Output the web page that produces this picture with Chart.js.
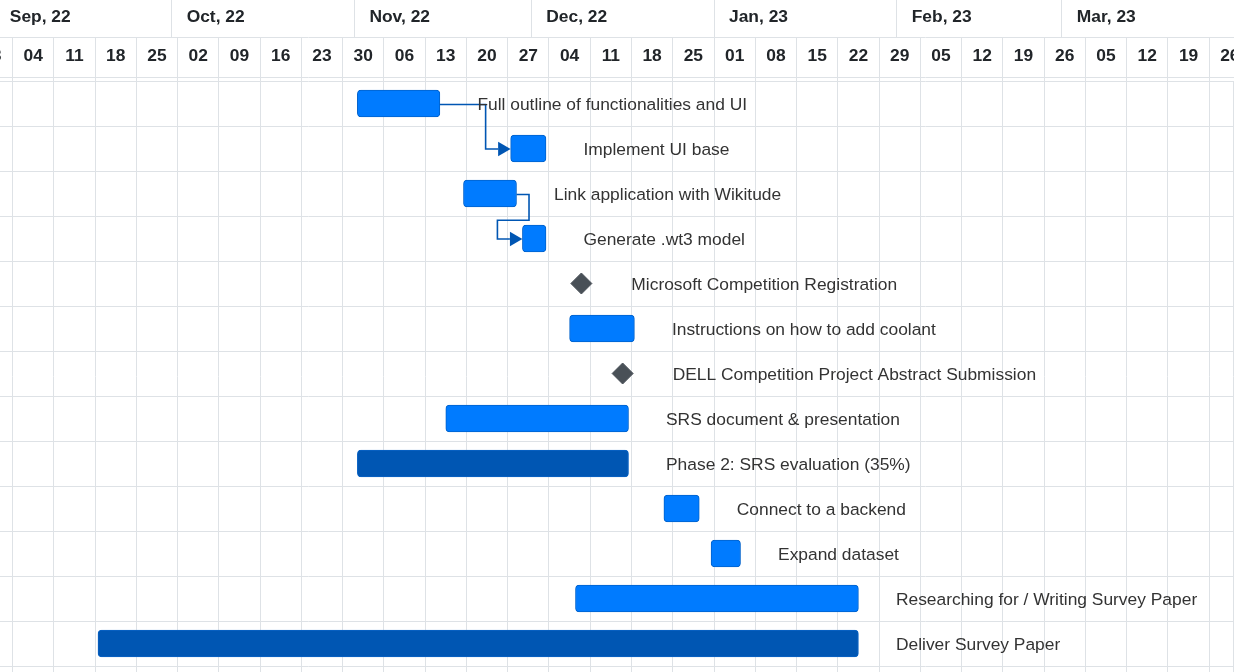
<!DOCTYPE html>
<html>
<head>
<meta charset="utf-8">
<script src="https://cdn.jsdelivr.net/npm/chart.js@4.4.1/dist/chart.umd.min.js"></script>
<style>
  html, body { margin: 0; padding: 0; background: #ffffff; }
  #c { display: block; }
</style>
</head>
<body>
<canvas id="c" width="1234" height="672"></canvas>
<script>
// ---------------- DATA ----------------
const taskNames = [
  'Full outline of functionalities and UI',
  'Implement UI base',
  'Link application with Wikitude',
  'Generate .wt3 model',
  'Microsoft Competition Registration',
  'Instructions on how to add coolant',
  'DELL Competition Project Abstract Submission',
  'SRS document & presentation',
  'Phase 2: SRS evaluation (35%)',
  'Connect to a backend',
  'Expand dataset',
  'Researching for / Writing Survey Paper',
  'Deliver Survey Paper'
];
const taskStart = ['2022-11-01', '2022-11-27', '2022-11-19', '2022-11-29', '2022-12-09', '2022-12-07', '2022-12-16',
                   '2022-11-16', '2022-11-01', '2022-12-23', '2022-12-31', '2022-12-08', '2022-09-18'];
const taskEnd   = ['2022-11-15', '2022-12-03', '2022-11-28', '2022-12-03', '2022-12-09', '2022-12-18', '2022-12-16',
                   '2022-12-17', '2022-12-17', '2022-12-29', '2023-01-05', '2023-01-25', '2023-01-25'];
const taskKind  = ['task', 'task', 'task', 'task', 'milestone', 'task', 'milestone',
                   'task', 'phase', 'task', 'task', 'task', 'phase'];
const dependencies = [[0, 1], [2, 3]];

const monthStarts = ['2022-09-01', '2022-10-01', '2022-11-01', '2022-12-01', '2023-01-01', '2023-02-01', '2023-03-01'];
const monthLabels = ['Sep, 22', 'Oct, 22', 'Nov, 22', 'Dec, 22', 'Jan, 23', 'Feb, 23', 'Mar, 23'];
const firstWeekStart = '2022-08-28';   // weeks start on Sunday

// ---------------- HELPERS ----------------
const dayNum = s => { const [y, m, d] = s.split('-').map(Number); return Date.UTC(y, m - 1, d) / 864e5; };
const TZ_SHIFT = 0.5; // header shows local midnight, 12h ahead of the UTC task dates
const tickValue = s => dayNum(s) - TZ_SHIFT;

const viewMin = dayNum('2022-09-01') + 0.38;
const viewMax = dayNum('2023-03-29') + 0.71;

const weekTicks = [];
for (let v = dayNum(firstWeekStart); v - TZ_SHIFT <= viewMax + 7; v += 7) {
  const d = new Date(v * 864e5);
  weekTicks.push({ value: v - TZ_SHIFT, label: String(d.getUTCDate()).padStart(2, '0') });
}

const barIdx = taskNames.map((_, i) => i).filter(i => taskKind[i] !== 'milestone');
const msIdx = taskNames.map((_, i) => i).filter(i => taskKind[i] === 'milestone');

const COLORS = {
  task:  { bg: '#007bff', border: '#0062cc' },
  phase: { bg: '#0056b3', border: '#0a63c4' },
  milestone: '#495057',
  grid: '#dee2e6',
  text: '#333333',
  header: '#212529',
  connector: '#0056b3'
};
const FONT = '"Liberation Sans", Arial, Helvetica, sans-serif';

// ---------------- PLUGINS ----------------
const align = p => Math.round(p - 0.5) + 0.5;

const headerPlugin = {
  id: 'ganttHeader',
  afterDraw(chart) {
    const { ctx, chartArea } = chart;
    const xs = chart.scales.x;
    const W = chart.width;
    const monthBottom = 37, weekBottom = 77, bodyTop = chartArea.top;
    ctx.save();
    ctx.strokeStyle = COLORS.grid;
    ctx.lineWidth = 1;
    ctx.beginPath();
    ctx.moveTo(0, monthBottom + 0.5); ctx.lineTo(W, monthBottom + 0.5);
    ctx.moveTo(0, weekBottom + 0.5); ctx.lineTo(W, weekBottom + 0.5);
    weekTicks.forEach(t => {
      const px = align(xs.getPixelForValue(t.value));
      ctx.moveTo(px, monthBottom); ctx.lineTo(px, bodyTop);
    });
    monthStarts.forEach(s => {
      const px = align(xs.getPixelForValue(tickValue(s)));
      ctx.moveTo(px, 0); ctx.lineTo(px, monthBottom);
    });
    // right border of the plot
    ctx.moveTo(chartArea.right - 0.5, bodyTop); ctx.lineTo(chartArea.right - 0.5, chartArea.bottom);
    ctx.stroke();

    ctx.fillStyle = COLORS.header;
    ctx.font = 'bold 17.4px ' + FONT;
    ctx.textBaseline = 'middle';
    ctx.textAlign = 'center';
    weekTicks.forEach(t => {
      const a = xs.getPixelForValue(t.value), b = xs.getPixelForValue(t.value + 7);
      ctx.fillText(t.label, (a + b) / 2, 56);
    });
    ctx.textAlign = 'left';
    monthStarts.forEach((s, i) => {
      const px = xs.getPixelForValue(tickValue(s));
      ctx.fillText(monthLabels[i], px + 15, 17.5);
    });
    ctx.restore();
  }
};

function taskGeometry(chart) {
  const geo = [];
  const barMeta = chart.getDatasetMeta(0);
  barMeta.data.forEach((el, k) => {
    const p = el.getProps(['x', 'y', 'base'], true);
    geo[barIdx[k]] = { left: Math.min(p.x, p.base), right: Math.max(p.x, p.base), y: p.y };
  });
  const msMeta = chart.getDatasetMeta(1);
  msMeta.data.forEach((el, k) => {
    const p = el.getProps(['x', 'y'], true);
    geo[msIdx[k]] = { left: p.x - 12.5, right: p.x + 12.5, y: p.y };
  });
  return geo;
}

const connectorPlugin = {
  id: 'ganttConnectors',
  afterDatasetsDraw(chart) {
    const { ctx } = chart;
    const geo = taskGeometry(chart);
    ctx.save();
    ctx.strokeStyle = COLORS.connector;
    ctx.fillStyle = COLORS.connector;
    ctx.lineWidth = 1.6;
    dependencies.forEach(([a, b]) => {
      const A = geo[a], B = geo[b];
      const ay = A.y + 1, by = B.y + 0.5;
      const tipBase = B.left - 12.5;
      ctx.beginPath();
      ctx.moveTo(A.right, ay);
      if (B.left - 25 > A.right + 10) {
        const mx = B.left - 25;
        ctx.lineTo(mx, ay); ctx.lineTo(mx, by); ctx.lineTo(tipBase, by);
      } else {
        const x1 = A.right + 12.5, x2 = B.left - 25, ym = (ay + by) / 2 + 3.5;
        ctx.lineTo(x1, ay); ctx.lineTo(x1, ym); ctx.lineTo(x2, ym); ctx.lineTo(x2, by); ctx.lineTo(tipBase, by);
      }
      ctx.stroke();
      ctx.beginPath();
      ctx.moveTo(tipBase, by - 7.2);
      ctx.lineTo(B.left, by);
      ctx.lineTo(tipBase, by + 7.2);
      ctx.closePath();
      ctx.fill();
    });
    ctx.restore();
  }
};

const labelPlugin = {
  id: 'ganttLabels',
  afterDraw(chart) {
    const { ctx } = chart;
    const geo = taskGeometry(chart);
    ctx.save();
    ctx.fillStyle = COLORS.text;
    ctx.font = '17.4px ' + FONT;
    ctx.textBaseline = 'middle';
    ctx.textAlign = 'left';
    taskNames.forEach((name, i) => {
      const g = geo[i];
      if (g) ctx.fillText(name, g.right + 37.5, g.y + 2);
    });
    ctx.restore();
  }
};

// ---------------- CHART ----------------
new Chart(document.getElementById('c'), {
  type: 'bar',
  data: {
    datasets: [
      {
        type: 'bar',
        indexAxis: 'y',
        data: barIdx.map(i => ({ y: i, x: [dayNum(taskStart[i]), dayNum(taskEnd[i])] })),
        backgroundColor: barIdx.map(i => COLORS[taskKind[i]].bg),
        borderColor: barIdx.map(i => COLORS[taskKind[i]].border),
        borderWidth: 1,
        borderSkipped: false,
        borderRadius: 4,
        barThickness: 27,
        grouped: false
      },
      {
        type: 'scatter',
        indexAxis: 'y',
        data: msIdx.map(i => ({ y: i, x: dayNum(taskStart[i]) })),
        pointStyle: 'rectRot',
        radius: 10.5,
        backgroundColor: COLORS.milestone,
        borderColor: COLORS.milestone,
        borderWidth: 1
      }
    ]
  },
  options: {
    responsive: false,
    animation: false,
    events: [],
    devicePixelRatio: 1,
    indexAxis: 'y',
    layout: { autoPadding: false, padding: { top: 81, left: 0, right: 0, bottom: 0 } },
    plugins: { legend: { display: false }, tooltip: { enabled: false } },
    scales: {
      x: {
        type: 'linear',
        position: 'top',
        min: viewMin,
        max: viewMax,
        bounds: 'data',
        offset: false,
        afterBuildTicks: axis => { axis.ticks = weekTicks.filter(t => t.value >= viewMin && t.value <= viewMax).map(t => ({ value: t.value })); },
        grid: { color: COLORS.grid, lineWidth: 1, drawTicks: false, offset: false },
        border: { display: false },
        ticks: { display: false }
      },
      y: {
        type: 'linear',
        reverse: true,
        min: -0.5,
        max: 12.633,
        offset: false,
        afterBuildTicks: axis => { axis.ticks = taskNames.map((_, i) => ({ value: i - 0.5 })).concat([{ value: taskNames.length - 0.5 }]); },
        grid: { color: COLORS.grid, lineWidth: 1, drawTicks: false, offset: false },
        border: { display: false },
        ticks: { display: false }
      }
    }
  },
  plugins: [headerPlugin, connectorPlugin, labelPlugin]
});
</script>
</body>
</html>
